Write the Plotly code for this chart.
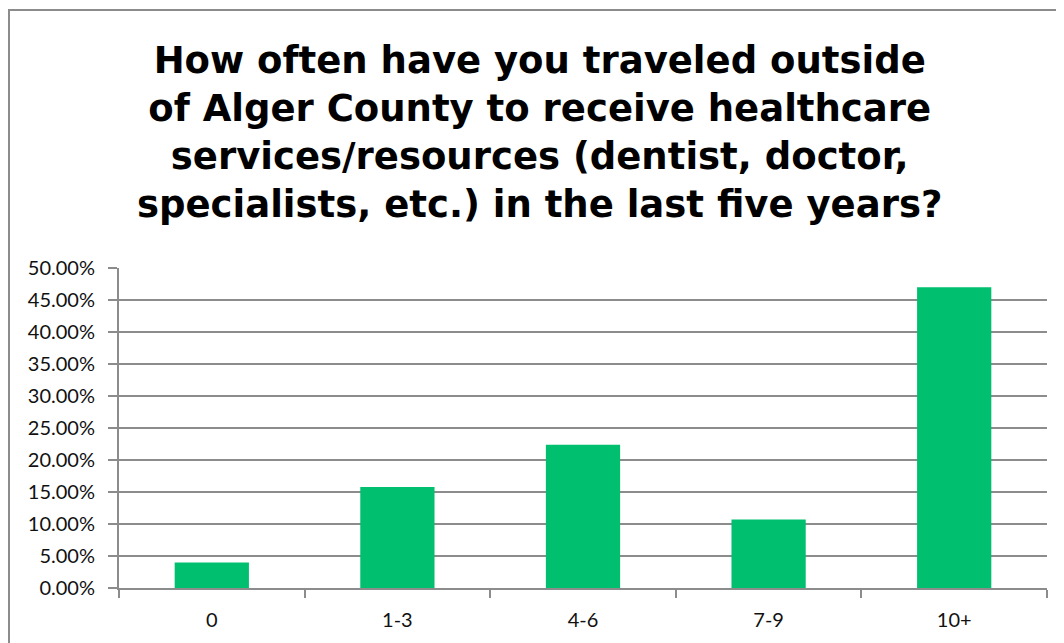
import plotly.graph_objects as go

# data
categories = ['0', '1-3', '4-6', '7-9', '10+']
share = [0.040, 0.158, 0.224, 0.107, 0.470]
y_ticks = [0, 0.05, 0.10, 0.15, 0.20, 0.25, 0.30, 0.35, 0.40, 0.45, 0.50]

TITLE = ('How often have you traveled outside<br>'
         'of Alger County to receive healthcare<br>'
         'services/resources (dentist, doctor,<br>'
         'specialists, etc.) in the last five years?')

GRID = '#8c8c8c'
BAR = '#00BF6F'
TICK_FONT = {'family': 'Lato, Open Sans, sans-serif', 'size': 20, 'color': '#111111'}

# page body adds an 8px margin, so the figure is 8px smaller than the window
W, H = 1056, 635
L, R, T, B = 111, 17, 260, 55
PW, PH = W - L - R, H - T - B


def px_x(x):
    return (x - L) / PW


def px_y(y):
    return ((H - B) - y) / PH


fig = go.Figure(go.Bar(
    x=categories,
    y=share,
    marker={'color': BAR, 'line': {'width': 0}},
    hovertemplate='%{x}: %{y:.2%}<extra></extra>',
))

fig.update_layout(
    width=W,
    height=H,
    plot_bgcolor='white',
    paper_bgcolor='white',
    margin={'l': L, 'r': R, 't': T, 'b': B},
    bargap=0.6,
    showlegend=False,
    xaxis={
        'showgrid': False,
        'showline': True,
        'linecolor': GRID,
        'linewidth': 2,
        'ticks': 'outside',
        'tickson': 'boundaries',
        'ticklen': 8,
        'tickcolor': GRID,
        'tickwidth': 2,
        'tickfont': TICK_FONT,
        'ticklabelstandoff': 13,
        'zeroline': False,
    },
    yaxis={
        'range': [0, 0.5],
        'tickvals': y_ticks,
        'tickformat': '.2%',
        'showgrid': True,
        'gridcolor': GRID,
        'gridwidth': 1.5,
        'showline': True,
        'linecolor': GRID,
        'linewidth': 2,
        'ticks': 'outside',
        'ticklen': 9,
        'tickcolor': GRID,
        'tickwidth': 1.5,
        'tickfont': TICK_FONT,
        'ticklabelstandoff': 9,
        'zeroline': False,
    },
)

fig.add_annotation(
    text=TITLE,
    xref='paper', yref='paper',
    x=px_x(531), y=px_y(124),
    xanchor='center', yanchor='middle',
    showarrow=False,
    align='center',
    font={'family': 'DejaVu Sans, sans-serif', 'size': 37,
          'color': '#000000', 'weight': 'bold'},
)

# outer chart frame (runs off the right and bottom edges in the reference)
fig.add_shape(
    type='rect', xref='paper', yref='paper',
    x0=px_x(1), x1=px_x(1070),
    y0=px_y(660), y1=px_y(2),
    line={'color': '#8c8c8c', 'width': 2},
    fillcolor='rgba(0,0,0,0)',
    layer='below',
)

fig.write_html('out.html')
